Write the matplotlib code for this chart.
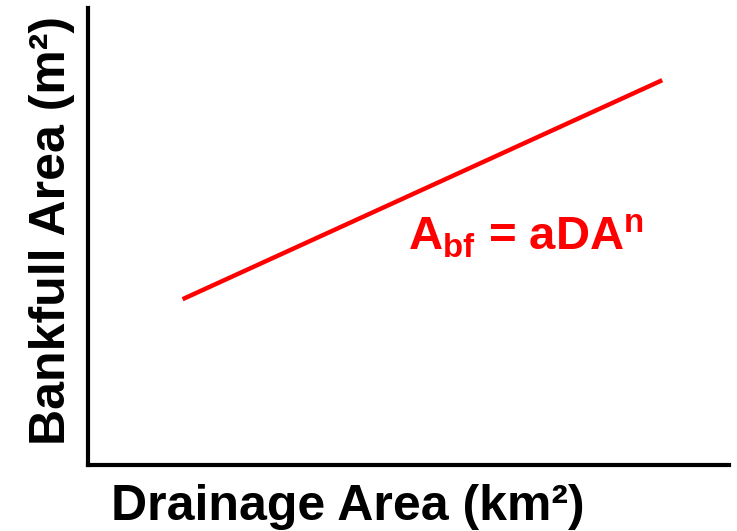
import matplotlib
matplotlib.use("Agg")
import matplotlib.pyplot as plt

# line endpoints in relative units (axes span 0..1)
x_vals = [0.148, 0.896]
y_vals = [0.363, 0.842]

x_label = "Drainage Area (km\u00b2)"
y_label = "Bankfull Area (m\u00b2)"

plt.rcParams['font.family'] = ['Liberation Sans', 'DejaVu Sans']
plt.rcParams['mathtext.fontset'] = 'custom'
plt.rcParams['mathtext.rm'] = 'Liberation Sans:bold'
plt.rcParams['mathtext.bf'] = 'Liberation Sans:bold'
plt.rcParams['mathtext.it'] = 'Liberation Sans:bold'

fig = plt.figure(figsize=(7.37, 5.31), dpi=100)
ax = fig.add_axes([0.119, 0.124, 0.87, 0.861])
ax.set_xlim(0, 1)
ax.set_ylim(0, 1)

ax.plot(x_vals, y_vals, color="#ff0000", lw=3.2, solid_capstyle="butt")

ax.spines['top'].set_visible(False)
ax.spines['right'].set_visible(False)
for s in ['left', 'bottom']:
    ax.spines[s].set_linewidth(3)
    ax.spines[s].set_color("black")
ax.set_xticks([])
ax.set_yticks([])

# equation label
ax.text(0.50, 0.50, r"$\mathrm{A_{bf}}$ = aDA$^{\mathrm{n}}$", color="#ff0000",
        fontsize=34, fontweight="bold", ha="left", va="center")

fig.text(0.472, 0.045, x_label, fontsize=36, fontweight="bold",
         ha="center", va="center")
fig.text(0.07, 0.565, y_label, fontsize=36, fontweight="bold",
         rotation=90, ha="center", va="center")

fig.savefig("out.png", dpi=100)
